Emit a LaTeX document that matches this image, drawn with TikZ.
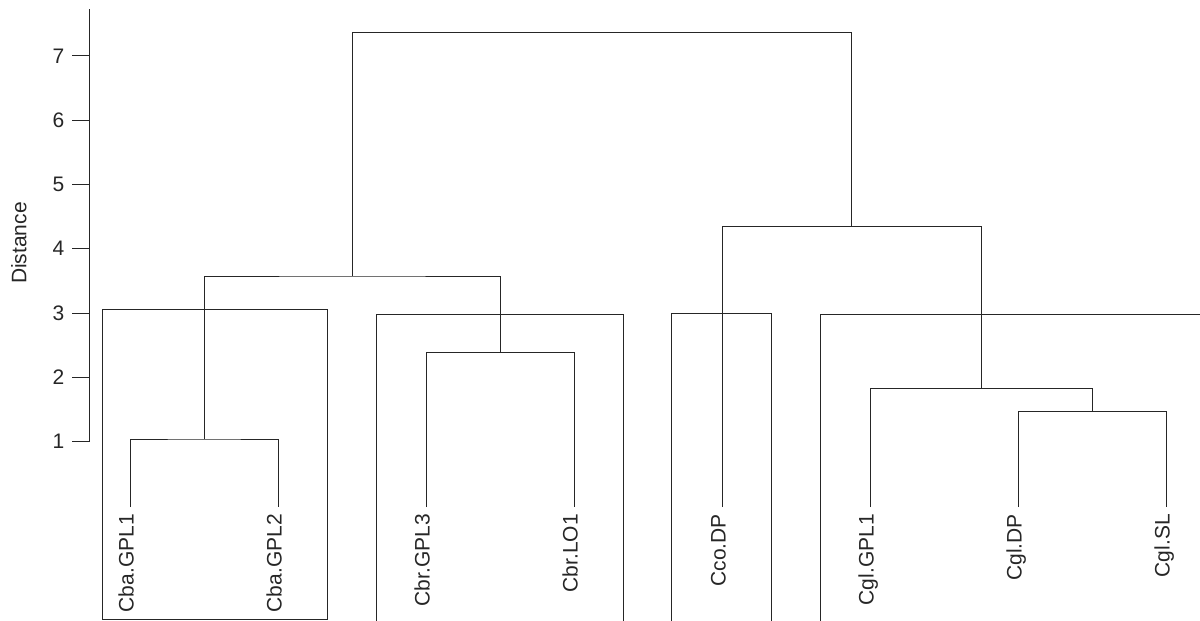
\documentclass[tikz,border=0pt]{standalone}
\usepackage{fontspec}
\setmainfont{Liberation Sans}
\begin{document}
\begin{tikzpicture}[x=1pt,y=-1pt,
  link/.style={draw=black!85,line width=0.9pt},
  boxline/.style={draw=black!85,line width=0.9pt},
  lbl/.style={inner sep=0pt,text=black!85,font=\fontsize{21}{25}\selectfont},
  leaflabel/.style={lbl,rotate=90,anchor=base east},
  ticklabel/.style={lbl,anchor=east},
]
\useasboundingbox (0,0) rectangle (1200,621);

% axis
\coordinate (axtop) at (89,9);
\coordinate (axbot) at (89,441.5);
\draw[link] (axtop) -- (axbot);
\foreach \v/\y in {1/441.5,2/377.2,3/313,4/248.7,5/184.4,6/120.1,7/55.8}{
  \coordinate (t\v) at (72,\y);
  \coordinate (ta\v) at (89,\y);
  \draw[link] (t\v) -- (ta\v);
  \node[ticklabel] (tl\v) at (64.5,\y) {\v};
}
\node[lbl,rotate=90,anchor=base] (ylab) at (26.3,243) {Distance};

% boxes
\coordinate (b1a) at (102,309);
\coordinate (b1b) at (327,619);
\draw[boxline] (b1a) rectangle (b1b);
\coordinate (b2a) at (376,622);
\coordinate (b2b) at (623,314);
\coordinate (b2c) at (623,622);
\draw[boxline] (b2a) |- (b2b) -- (b2c);
\coordinate (b3a) at (671,622);
\coordinate (b3b) at (771.5,313.5);
\coordinate (b3c) at (771.5,622);
\draw[boxline] (b3a) |- (b3b) -- (b3c);
\coordinate (b4a) at (820,622);
\coordinate (b4b) at (1201,314);
\draw[boxline] (b4a) |- (b4b);

% leaves
\foreach \n/\x/\t in {1/130/Cba.GPL1,2/278/Cba.GPL2,3/426/Cbr.GPL3,4/574/Cbr.LO1,5/722/Cco.DP,6/870/Cgl.GPL1,7/1018/Cgl.DP,8/1166/Cgl.SL}{
  \coordinate (leaf\n) at (\x,507);
  \node[leaflabel] (lab\n) at (\x+3.5,514) {\t};
}

% merges
\coordinate (m1) at (204,439);
\coordinate (m2) at (500,352.5);
\coordinate (m3) at (352.3,276);
\coordinate (m4) at (1092.5,411.5);
\coordinate (m5) at (981.5,388.5);
\coordinate (m6) at (851.7,226.5);
\coordinate (m7) at (602,32.5);

\draw[link] (leaf1) |- (m1) -| (leaf2);
\draw[link] (leaf3) |- (m2) -| (leaf4);
\draw[link] (m1) |- (m3) -| (m2);
\draw[link] (leaf7) |- (m4) -| (leaf8);
\draw[link] (leaf6) |- (m5) -| (m4);
\draw[link] (leaf5) |- (m6) -| (m5);
\draw[link] (m3) |- (m7) -| (m6);
\end{tikzpicture}
\end{document}
